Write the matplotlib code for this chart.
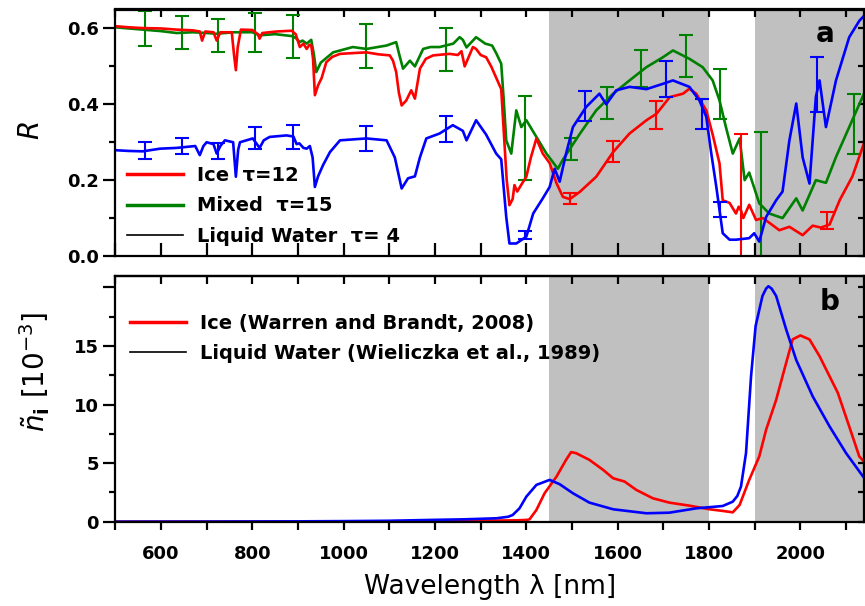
import matplotlib
matplotlib.use("Agg")
import matplotlib.pyplot as plt
from matplotlib.lines import Line2D
from matplotlib.ticker import MultipleLocator, FixedLocator, NullFormatter

plt.rcParams['font.family'] = ['DejaVu Sans']
plt.rcParams['mathtext.fontset'] = 'dejavusans'

# ---------------- data: panel a (reflectance) ----------------
ice_wl = [500, 530, 560, 600, 634, 670, 685, 690, 697, 715, 722, 730, 755, 760, 764, 768, 775, 800,
          812, 816, 822, 853, 886, 895, 904, 912, 919, 925, 929, 933, 937, 944, 952, 962, 975, 992,
          1020, 1050, 1075, 1101, 1108, 1115, 1121, 1127, 1137, 1148, 1156, 1167, 1180, 1196, 1232,
          1250, 1258, 1265, 1283, 1290, 1300, 1312, 1323, 1334, 1345, 1352, 1357, 1363, 1370, 1374,
          1380, 1390, 1400, 1410, 1422, 1436, 1451, 1466, 1480, 1495, 1517, 1553, 1590, 1626, 1663,
          1685, 1714, 1743, 1757, 1772, 1794, 1808, 1823, 1830, 1845, 1859, 1865, 1870, 1875, 1888,
          1903, 1918, 1935, 1954, 1976, 2005, 2027, 2045, 2064, 2086, 2114, 2140]
ice_R = [0.606, 0.603, 0.601, 0.600, 0.597, 0.595, 0.592, 0.568, 0.592, 0.590, 0.568, 0.590, 0.590,
         0.53, 0.49, 0.55, 0.597, 0.596, 0.585, 0.573, 0.588, 0.592, 0.594, 0.585, 0.551, 0.56, 0.546,
         0.557, 0.556, 0.52, 0.424, 0.45, 0.47, 0.511, 0.525, 0.533, 0.535, 0.537, 0.532, 0.529, 0.515,
         0.485, 0.43, 0.397, 0.41, 0.437, 0.415, 0.494, 0.52, 0.529, 0.533, 0.53, 0.54, 0.50, 0.551,
         0.546, 0.53, 0.524, 0.50, 0.47, 0.44, 0.30, 0.20, 0.134, 0.15, 0.187, 0.17, 0.19, 0.209, 0.26,
         0.31, 0.27, 0.245, 0.192, 0.156, 0.150, 0.169, 0.209, 0.274, 0.323, 0.358, 0.375, 0.419, 0.428,
         0.441, 0.428, 0.384, 0.32, 0.244, 0.147, 0.14, 0.112, 0.13, 0.12, 0.10, 0.135, 0.095, 0.10,
         0.085, 0.068, 0.077, 0.055, 0.08, 0.075, 0.083, 0.147, 0.21, 0.30]

mix_wl = [500, 530, 560, 600, 634, 670, 700, 722, 760, 800, 816, 850, 886, 895, 904, 910, 919, 929,
          935, 940, 950, 960, 977, 1020, 1050, 1094, 1115, 1122, 1130, 1145, 1156, 1174, 1190, 1210,
          1240, 1254, 1261, 1269, 1290, 1310, 1325, 1334, 1345, 1350, 1356, 1367, 1378, 1389, 1400,
          1422, 1444, 1469, 1480, 1517, 1553, 1590, 1626, 1663, 1699, 1721, 1757, 1786, 1808, 1823,
          1837, 1852, 1867, 1878, 1888, 1910, 1932, 1961, 1991, 2005, 2034, 2056, 2078, 2107, 2140]
mix_R = [0.603, 0.600, 0.597, 0.593, 0.588, 0.590, 0.588, 0.586, 0.590, 0.590, 0.582, 0.585, 0.58,
         0.575, 0.564, 0.568, 0.56, 0.57, 0.53, 0.485, 0.51, 0.52, 0.537, 0.551, 0.546, 0.555, 0.564,
         0.53, 0.494, 0.515, 0.50, 0.546, 0.551, 0.551, 0.56, 0.577, 0.57, 0.55, 0.577, 0.56, 0.555,
         0.535, 0.507, 0.42, 0.305, 0.27, 0.384, 0.34, 0.358, 0.314, 0.27, 0.23, 0.254, 0.322, 0.384,
         0.428, 0.463, 0.498, 0.524, 0.542, 0.52, 0.498, 0.463, 0.41, 0.34, 0.27, 0.31, 0.20, 0.22,
         0.139, 0.112, 0.10, 0.152, 0.12, 0.20, 0.193, 0.261, 0.34, 0.43]

liq_wl = [500, 530, 560, 598, 634, 675, 685, 693, 700, 715, 722, 730, 740, 758, 764, 769, 773, 801,
          816, 825, 838, 875, 890, 897, 903, 912, 919, 926, 932, 937, 944, 955, 970, 992, 1050, 1094,
          1112, 1127, 1141, 1156, 1167, 1181, 1210, 1239, 1261, 1269, 1290, 1312, 1334, 1345, 1356,
          1363, 1378, 1400, 1415, 1436, 1451, 1462, 1473, 1487, 1502, 1531, 1560, 1575, 1597, 1626,
          1663, 1699, 1721, 1757, 1779, 1794, 1805, 1816, 1830, 1845, 1859, 1888, 1899, 1910, 1925,
          1947, 1961, 1976, 1991, 2005, 2020, 2034, 2042, 2056, 2078, 2107, 2129, 2140]
liq_R = [0.279, 0.277, 0.276, 0.283, 0.285, 0.29, 0.266, 0.29, 0.30, 0.295, 0.27, 0.29, 0.305, 0.30,
         0.209, 0.28, 0.30, 0.31, 0.285, 0.305, 0.314, 0.318, 0.315, 0.295, 0.297, 0.285, 0.283, 0.29,
         0.26, 0.182, 0.21, 0.24, 0.274, 0.305, 0.31, 0.305, 0.26, 0.178, 0.205, 0.21, 0.26, 0.31,
         0.323, 0.345, 0.33, 0.305, 0.358, 0.32, 0.27, 0.255, 0.103, 0.033, 0.033, 0.051, 0.112,
         0.152, 0.182, 0.23, 0.196, 0.27, 0.34, 0.393, 0.428, 0.40, 0.437, 0.446, 0.44, 0.454, 0.463,
         0.446, 0.41, 0.367, 0.27, 0.182, 0.06, 0.043, 0.043, 0.047, 0.06, 0.038, 0.103, 0.147, 0.17,
         0.305, 0.402, 0.26, 0.191, 0.42, 0.463, 0.34, 0.463, 0.577, 0.62, 0.634]

# error bars
mix_err_wl = [565, 645, 725, 806, 888, 1048, 1225, 1398, 1498, 1577, 1650, 1750, 1823, 1913, 2117]
mix_err_R = [0.599, 0.590, 0.581, 0.590, 0.579, 0.554, 0.545, 0.311, 0.281, 0.404, 0.494, 0.527,
             0.428, 0.162, 0.348]
mix_err = [0.046, 0.044, 0.043, 0.052, 0.057, 0.058, 0.056, 0.111, 0.029, 0.042, 0.048, 0.055,
           0.066, 0.164, 0.08]
liq_err_wl = [565, 645, 725, 806, 888, 1048, 1225, 1398, 1529, 1705, 1785, 1823, 2036]
liq_err_R = [0.279, 0.289, 0.276, 0.311, 0.314, 0.31, 0.335, 0.055, 0.396, 0.467, 0.375, 0.123, 0.453]
liq_err = [0.022, 0.021, 0.021, 0.029, 0.032, 0.033, 0.034, 0.011, 0.039, 0.048, 0.039, 0.02, 0.073]
ice_err_wl = [1495, 1590, 1683, 1870, 2058]
ice_err_R = [0.151, 0.275, 0.373, 0.16, 0.093]
ice_err = [0.014, 0.028, 0.037, 0.162, 0.022]

# ---------------- data: panel b (imaginary index, 1e-3) ----------------
ni_ice_wl = [500, 800, 1000, 1200, 1300, 1380, 1400, 1407, 1422, 1440, 1466, 1487, 1498, 1509, 1538,
             1568, 1590, 1615, 1641, 1677, 1713, 1757, 1801, 1830, 1852, 1867, 1888, 1910, 1925, 1947,
             1965, 1983, 2000, 2020, 2042, 2082, 2107, 2129, 2140]
ni_ice = [0.0, 0.01, 0.02, 0.05, 0.08, 0.12, 0.15, 0.2, 1.0, 2.43, 3.85, 5.28, 5.94, 5.85, 5.28, 4.43,
          3.71, 3.43, 2.71, 2.0, 1.63, 1.37, 1.06, 0.92, 0.8, 1.43, 3.57, 5.57, 7.85, 10.4, 13.0, 15.56,
          15.9, 15.56, 14.13, 11.0, 8.13, 5.57, 5.1]
ni_liq_wl = [500, 700, 900, 1000, 1100, 1188, 1261, 1334, 1360, 1370, 1385, 1400, 1422, 1451, 1473,
             1502, 1538, 1590, 1663, 1713, 1772, 1830, 1852, 1862, 1870, 1881, 1892, 1902, 1917, 1925,
             1930, 1937, 1947, 1969, 1991, 2027, 2064, 2100, 2140]
ni_liq = [0.0, 0.01, 0.03, 0.05, 0.08, 0.15, 0.2, 0.29, 0.42, 0.57, 1.14, 2.14, 3.14, 3.57, 3.2, 2.43,
          1.63, 1.06, 0.72, 0.77, 1.14, 1.34, 1.71, 2.2, 3.0, 5.86, 12.4, 16.7, 19.27, 19.9, 20.1, 19.9,
          19.27, 16.4, 13.8, 10.7, 8.13, 5.86, 3.71]

bands = [(1450, 1800), (1900, 2140)]
xticks = [600, 800, 1000, 1200, 1400, 1600, 1800, 2000]
labels_a = ["Ice  \u03c4=12", "Mixed  \u03c4=15", "Liquid Water  \u03c4= 4"]
labels_b = ["Ice (Warren and Brandt, 2008)", "Liquid Water (Wieliczka et al., 1989)"]

RED, GREEN, BLUE = "#ff0000", "#008000", "#0000ff"
GRAY = "#c0c0c0"

W, H = 865, 606
fig = plt.figure(figsize=(W / 100, H / 100), dpi=100)

def px_axes(l, t, r, b):
    return fig.add_axes([l / W, 1 - b / H, (r - l) / W, (b - t) / H])

ax1 = px_axes(115.3, 9.5, 864.3, 256)
ax2 = px_axes(115.3, 275.7, 864.3, 521.7)

lw = 1.9
spw = 1.6
tickfs = 13

for ax in (ax1, ax2):
    for lo, hi in bands:
        ax.axvspan(lo, hi, color=GRAY, lw=0, zorder=0)
    ax.set_xlim(500, 2140)
    for s in ax.spines.values():
        s.set_linewidth(spw)
        s.set_zorder(5)

# ---- panel a ----
ax1.plot(ice_wl, ice_R, color=RED, lw=lw, zorder=3)
ax1.plot(mix_wl, mix_R, color=GREEN, lw=lw, zorder=2)
ax1.plot(liq_wl, liq_R, color=BLUE, lw=lw, zorder=4)
ekw = dict(fmt="none", elinewidth=1.5, capsize=5, capthick=1.5)
ax1.errorbar(mix_err_wl, mix_err_R, yerr=mix_err, ecolor=GREEN, zorder=2.5, **ekw)
ax1.errorbar(liq_err_wl, liq_err_R, yerr=liq_err, ecolor=BLUE, zorder=4.5, **ekw)
ax1.errorbar(ice_err_wl, ice_err_R, yerr=ice_err, ecolor=RED, zorder=3.5, **ekw)
ax1.set_ylim(0, 0.65)
ax1.yaxis.set_major_locator(FixedLocator([0.0, 0.2, 0.4, 0.6]))
ax1.yaxis.set_minor_locator(FixedLocator([0.1, 0.3, 0.5]))
ax1.set_yticklabels(["0.0", "0.2", "0.4", "0.6"])
ax1.xaxis.set_major_locator(MultipleLocator(100))
ax1.xaxis.set_major_formatter(NullFormatter())
ax1.tick_params(axis="x", which="major", direction="in", length=9.5, width=spw,
                bottom=True, top=False, labelbottom=False)
ax1.tick_params(axis="y", which="major", direction="out", length=8.5, width=spw,
                labelsize=tickfs, right=False)
ax1.tick_params(axis="y", which="minor", direction="out", length=4, width=spw, right=False)
for lab in ax1.get_yticklabels():
    lab.set_fontweight("bold")
sec = ax1.secondary_xaxis("top")
sec.xaxis.set_major_locator(MultipleLocator(100))
sec.tick_params(direction="in", length=6, width=spw, labeltop=False)
sec.spines["top"].set_linewidth(spw)
secr = ax1.secondary_yaxis("right")
secr.yaxis.set_major_locator(FixedLocator([0.0, 0.1, 0.2, 0.3, 0.4, 0.5, 0.6]))
secr.tick_params(direction="in", length=4, width=spw, labelright=False)
ax1.set_ylabel("$R$", fontsize=20)
ax1.yaxis.set_label_coords(-0.094, 0.51)
ax1.text(0.9475, 0.90, "a", transform=ax1.transAxes, fontsize=20, fontweight="bold",
         ha="center", va="center")

h1 = [Line2D([], [], color=RED, lw=2.5), Line2D([], [], color=GREEN, lw=2.5),
      Line2D([], [], color="black", lw=1.2)]
leg1 = ax1.legend(h1, labels_a, loc="lower left", bbox_to_anchor=(0.0156, 0.042),
                  frameon=False, borderpad=0, borderaxespad=0, handlelength=2.9,
                  handletextpad=0.7, labelspacing=0.58,
                  prop=dict(size=14, weight="bold"))
leg1.set_zorder(6)

# ---- panel b ----
ax2.plot(ni_ice_wl, ni_ice, color=RED, lw=lw, zorder=3)
ax2.plot(ni_liq_wl, ni_liq, color=BLUE, lw=lw, zorder=4)
ax2.set_ylim(0, 21)
ax2.yaxis.set_major_locator(FixedLocator([0, 5, 10, 15, 20]))
ax2.yaxis.set_minor_locator(FixedLocator([2.5, 7.5, 12.5, 17.5]))
ax2.set_yticklabels(["0", "5", "10", "15", ""])
ax2.xaxis.set_major_locator(FixedLocator(xticks))
ax2.xaxis.set_minor_locator(MultipleLocator(100))
ax2.set_xticklabels([str(v) for v in xticks])
ax2.tick_params(axis="x", which="both", direction="out", length=5.5, width=spw,
                labelsize=tickfs, top=False, pad=11)
ax2.tick_params(axis="y", which="major", direction="out", length=8.5, width=spw,
                labelsize=tickfs, right=False)
ax2.tick_params(axis="y", which="minor", direction="out", length=4, width=spw, right=False)
for lab in ax2.get_yticklabels() + ax2.get_xticklabels():
    lab.set_fontweight("bold")
sec2 = ax2.secondary_xaxis("top")
sec2.xaxis.set_major_locator(MultipleLocator(100))
sec2.tick_params(direction="in", length=6, width=spw, labeltop=False)
sec2.spines["top"].set_linewidth(spw)
sec2r = ax2.secondary_yaxis("right")
sec2r.yaxis.set_major_locator(FixedLocator([0, 2.5, 5, 7.5, 10, 12.5, 15, 17.5, 20]))
sec2r.tick_params(direction="in", length=4, width=spw, labelright=False)
ax2.set_ylabel(r"$\tilde{n}_\mathbf{i}$ [10$^{-3}$]", fontsize=20)
ax2.yaxis.set_label_coords(-0.085, 0.61)
ax2.set_xlabel("Wavelength \u03bb [nm]", fontsize=19, labelpad=8)
ax2.text(0.954, 0.894, "b", transform=ax2.transAxes, fontsize=20, fontweight="bold",
         ha="center", va="center")

h2 = [Line2D([], [], color=RED, lw=2.5), Line2D([], [], color="black", lw=1.2)]
leg2 = ax2.legend(h2, labels_b, loc="upper left", bbox_to_anchor=(0.0196, 0.845),
                  frameon=False, borderpad=0, borderaxespad=0, handlelength=2.9,
                  handletextpad=0.7, labelspacing=0.58,
                  prop=dict(size=14, weight="bold"))

fig.savefig("out.png", dpi=100)
